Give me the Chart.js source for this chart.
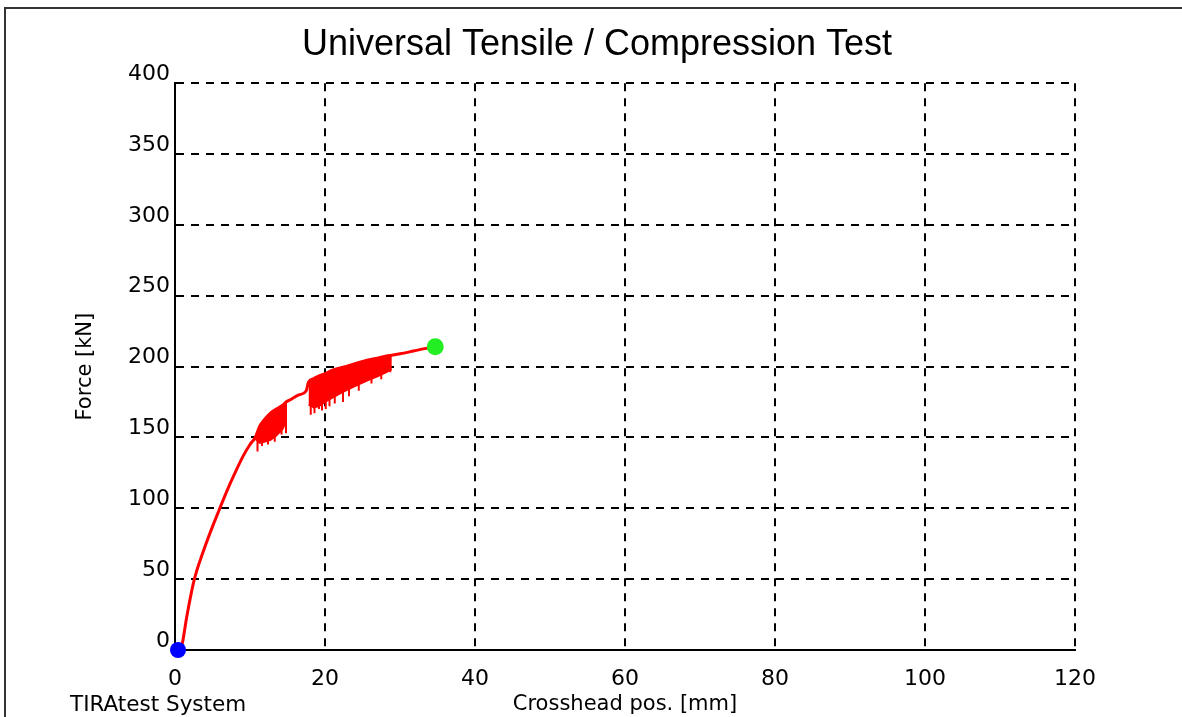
<!DOCTYPE html>
<html>
<head>
<meta charset="utf-8">
<title>Universal Tensile / Compression Test</title>
<script src="https://cdn.jsdelivr.net/npm/chart.js@4.4.1/dist/chart.umd.min.js"></script>
<style>
  html, body { margin: 0; padding: 0; background: #fff; }
  canvas { display: block; }
</style>
</head>
<body>
<canvas id="grafica" width="1182" height="717"></canvas>
<script>
// Crosshead position [mm] / force [kN]
const curveX = [0.4, 0.9, 1.55, 2.4, 2.9, 3.6, 4.7, 5.9, 6.9, 8.0, 9.1, 10.0, 10.7, 11.3, 12.0, 12.7, 13.5, 14.4, 14.8, 15.5, 16.5, 17.5, 17.8, 18.5, 19.2, 20.0, 21.0, 22.4, 24.0, 25.6, 27.0, 28.2, 28.9, 30.0, 31.8, 33.3, 34.7];
const curveY = [0, 3, 23, 46, 56, 67, 83, 99, 112, 125, 137, 145, 150, 158, 163, 167, 170, 173, 175, 177, 180, 183, 189, 191.5, 193.5, 195, 197.5, 199.5, 202, 204.5, 206, 207.5, 208, 209, 211, 212.7, 214];

// lower edge of the serrated zones (upper edge is the curve itself)
const band1X = [10.7, 11.3, 12.0, 12.7, 13.5, 14.4, 14.8];
const band1Low = [149, 146, 147, 148, 151, 156, 161];
const band2X = [17.8, 18.5, 19.2, 20.0, 21.0, 22.4, 24.0, 25.6, 27.0, 28.2, 28.9];
const band2Low = [173, 171, 172, 175, 178, 182, 186, 190, 193, 196, 198];

// single drops below the bands
const spikeX = [11.0, 11.6, 12.4, 13.3, 14.2, 14.8, 18.1, 18.6, 19.2, 19.6, 20.1, 20.6, 21.3, 22.4, 23.2, 24.5, 26.2, 27.5, 28.7];
const spikeTop = [150, 160, 165, 169, 172, 175, 190, 191, 193, 194, 195, 196.5, 197, 200, 201, 203, 205, 206.5, 208];
const spikeLow = [140, 144, 145, 147, 152, 153, 166, 167, 170, 169, 170, 172, 174, 175, 179, 183, 188, 191, 196];

// start and break markers
const startX = [0.4];
const startY = [0];
const endX = [34.7];
const endY = [214];

const xTicks = [0, 20, 40, 60, 80, 100, 120];
const yTicks = [0, 50, 100, 150, 200, 250, 300, 350, 400];

function puntos(xs, ys) {
    return xs.map(function (x, i) { return { x: x, y: ys[i] }; });
}

let spikes = [];
spikeX.forEach(function (x, i) {
    spikes.push({ x: x, y: spikeTop[i] });
    spikes.push({ x: x, y: spikeLow[i] });
    spikes.push({ x: x, y: null });
});

// marco exterior y texto del pie
const marco = {
    id: 'marco',
    beforeDraw(chart) {
        let ctx = chart.ctx;
        ctx.save();
        ctx.fillStyle = '#fff';
        ctx.fillRect(0, 0, chart.width, chart.height);
        ctx.strokeStyle = '#333';
        ctx.lineWidth = 2;
        ctx.beginPath();
        ctx.moveTo(5, chart.height);
        ctx.lineTo(5, 8);
        ctx.lineTo(chart.width, 8);
        ctx.stroke();
        ctx.restore();
    },
    afterDraw(chart) {
        let ctx = chart.ctx;
        ctx.save();
        ctx.fillStyle = '#000';
        ctx.font = '21.5px "DejaVu Sans"';
        ctx.textAlign = 'left';
        ctx.textBaseline = 'middle';
        ctx.fillText('TIRAtest System', 70, 705);
        ctx.restore();
    }
};

const tickFont = { family: 'DejaVu Sans', size: 22 };
const labelFont = { family: 'DejaVu Sans', size: 21 };

new Chart(document.getElementById('grafica'), {
    type: 'line',
    data: {
        datasets: [{
            data: puntos(curveX, curveY),
            borderColor: '#ff0000',
            borderWidth: 3,
            pointRadius: 0,
            fill: false,
            cubicInterpolationMode: 'monotone'
        }, {
            data: puntos(band1X, band1Low),
            borderColor: '#ff0000',
            backgroundColor: '#ff0000',
            borderWidth: 1.5,
            pointRadius: 0,
            fill: 0
        }, {
            data: puntos(band2X, band2Low),
            borderColor: '#ff0000',
            backgroundColor: '#ff0000',
            borderWidth: 1.5,
            pointRadius: 0,
            fill: 0
        }, {
            data: spikes,
            borderColor: '#ff0000',
            borderWidth: 2,
            pointRadius: 0,
            spanGaps: false,
            fill: false
        }, {
            data: puntos(startX, startY),
            showLine: false,
            pointRadius: 8,
            pointBackgroundColor: '#0000ff',
            pointBorderWidth: 0,
            order: -1,
            clip: false
        }, {
            data: puntos(endX, endY),
            showLine: false,
            pointRadius: 8.5,
            pointBackgroundColor: '#22ee22',
            pointBorderWidth: 0,
            order: -1,
            clip: false
        }]
    },
    options: {
        responsive: false,
        animation: false,
        layout: { padding: { left: 12, right: 0, top: 0, bottom: 0 } },
        plugins: {
            legend: { display: false },
            tooltip: { enabled: false },
            title: {
                display: true,
                text: 'Universal Tensile / Compression Test',
                color: '#000',
                font: { family: 'Liberation Sans', size: 36, weight: 'normal' },
                padding: { top: 23, bottom: 17 }
            }
        },
        scales: {
            x: {
                type: 'linear',
                min: 0,
                max: 120,
                afterBuildTicks: function (scale) {
                    scale.ticks = xTicks.map(function (v) { return { value: v }; });
                },
                afterFit: function (scale) { scale.height = 67; },
                grid: { color: '#000', lineWidth: 2, drawTicks: false },
                border: { display: true, color: '#000', width: 2, dash: [8, 7] },
                ticks: { color: '#000', font: tickFont, padding: 16, maxRotation: 0 },
                title: {
                    display: true,
                    text: 'Crosshead pos. [mm]',
                    color: '#000',
                    font: labelFont,
                    padding: { top: 0, bottom: 0 }
                }
            },
            y: {
                type: 'linear',
                min: 0,
                max: 400,
                afterBuildTicks: function (scale) {
                    scale.ticks = yTicks.map(function (v) { return { value: v }; });
                },
                afterFit: function (scale) { scale.width = 163; },
                grid: { color: '#000', lineWidth: 2, drawTicks: false },
                border: { display: true, color: '#000', width: 2, dash: [8, 7] },
                ticks: { color: '#000', font: tickFont, padding: 5, labelOffset: -9 },
                title: {
                    display: true,
                    text: 'Force [kN]',
                    color: '#000',
                    font: labelFont,
                    padding: { top: 61, bottom: 0 }
                }
            },
            // eje vacío a la derecha, solo reserva el margen
            y2: {
                type: 'linear',
                position: 'right',
                display: true,
                min: 0,
                max: 400,
                afterFit: function (scale) { scale.width = 107; },
                grid: { display: false },
                border: { display: false },
                ticks: { display: false }
            }
        }
    },
    plugins: [marco]
});
</script>
</body>
</html>
